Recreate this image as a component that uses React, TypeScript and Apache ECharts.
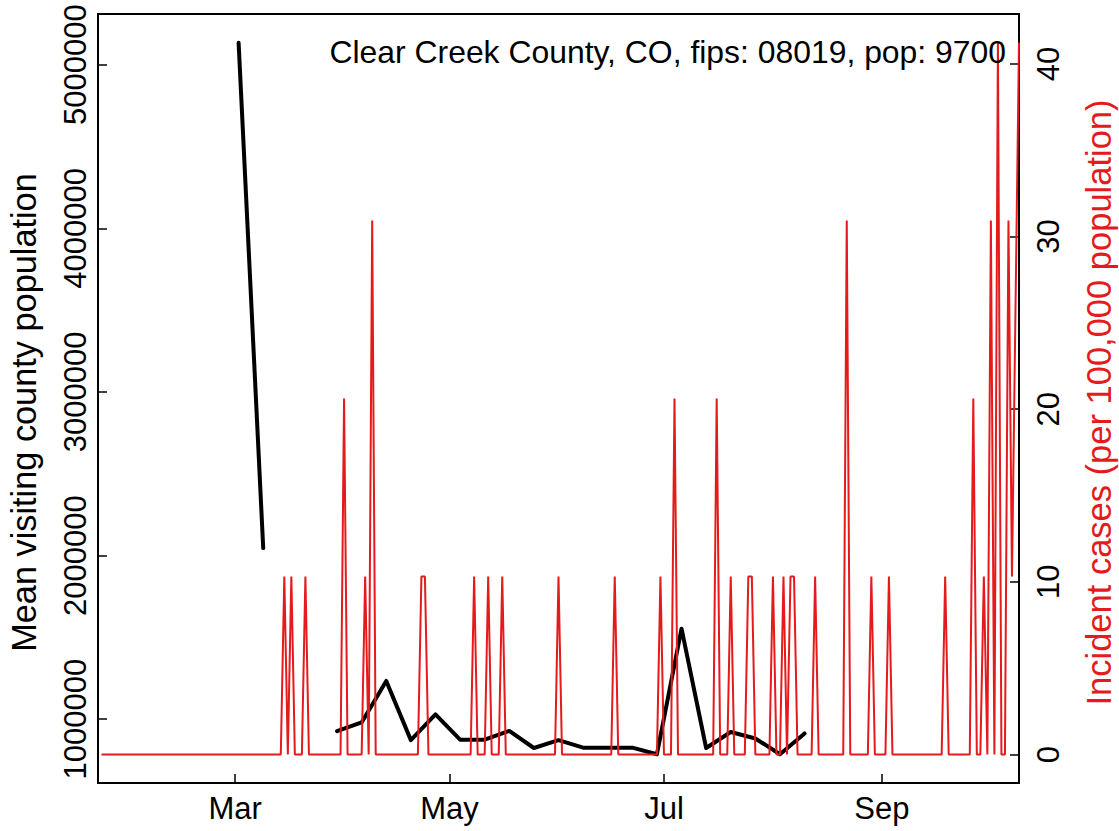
import React, { useEffect, useRef } from "react";
import * as echarts from "echarts";

const FONT = "'Liberation Sans', Arial, Helvetica, sans-serif";

const chartTitle = "Clear Creek County, CO, fips: 08019, pop: 9700";
const leftAxisTitle = "Mean visiting county population";
const rightAxisTitle = "Incident cases (per 100,000 population)";

const axisStart = "2020-01-22";
const axisEnd = "2020-10-10";
const tickDates = ["2020-03-01", "2020-05-01", "2020-07-01", "2020-09-01"];
const tickLabels = ["Mar", "May", "Jul", "Sep"];

const leftTicks = [1000000, 2000000, 3000000, 4000000, 5000000];
const rightTicks = [0, 10, 20, 30, 40];

// weekly mean visiting county population (null = missing)
const weekDates = [
  "2020-03-02", "2020-03-09", "2020-03-16", "2020-03-23", "2020-03-30",
  "2020-04-06", "2020-04-13", "2020-04-20", "2020-04-27", "2020-05-04",
  "2020-05-11", "2020-05-18", "2020-05-25", "2020-06-01", "2020-06-08",
  "2020-06-15", "2020-06-22", "2020-06-29", "2020-07-06", "2020-07-13",
  "2020-07-20", "2020-07-27", "2020-08-03", "2020-08-10",
];
const visitingPop = [
  5134000, 2046000, null, null, 927000,
  980000, 1234000, 872000, 1029000, 875000,
  875000, 928000, 824000, 872000, 826000,
  826000, 826000, 786000, 1553000, 824000,
  922000, 882000, 786000, 913000,
];

// daily incident cases per 100,000 (days not listed are 0)
const caseStart = "2020-01-23";
const caseEnd = "2020-10-10";
const caseDates = [
  "2020-03-15", "2020-03-17", "2020-03-21", "2020-04-01", "2020-04-07",
  "2020-04-09", "2020-04-23", "2020-04-24", "2020-05-08", "2020-05-12",
  "2020-05-16", "2020-06-01", "2020-06-17", "2020-06-30", "2020-07-04",
  "2020-07-16", "2020-07-20", "2020-07-25", "2020-07-26", "2020-08-01",
  "2020-08-04", "2020-08-06", "2020-08-07", "2020-08-13", "2020-08-22",
  "2020-08-29", "2020-09-03", "2020-09-19", "2020-09-27", "2020-09-30",
  "2020-10-02", "2020-10-04", "2020-10-07", "2020-10-08", "2020-10-10",
];
const caseRates = [
  10.31, 10.31, 10.31, 20.62, 10.31,
  30.93, 10.31, 10.31, 10.31, 10.31,
  10.31, 10.31, 10.31, 10.31, 20.62,
  20.62, 10.31, 10.31, 10.31, 10.31,
  10.31, 10.31, 10.31, 10.31, 30.93,
  10.31, 10.31, 10.31, 20.62, 10.31,
  30.93, 41.24, 30.93, 10.31, 41.24,
];
const noReportDates = ["2020-10-09"];

function ts(s: string): number {
  const [y, m, d] = s.split("-").map(Number);
  return Date.UTC(y, m - 1, d);
}

function buildCases(): [number, number][] {
  const [y, m, d] = caseStart.split("-").map(Number);
  const end = ts(caseEnd);
  const rateMap = new Map<number, number>();
  caseDates.forEach((c, i) => rateMap.set(ts(c), caseRates[i]));
  const skip = new Set(noReportDates.map(ts));
  const out: [number, number][] = [];
  for (let i = 0; ; i++) {
    const t = Date.UTC(y, m - 1, d + i);
    if (t > end) break;
    if (skip.has(t)) continue;
    out.push([t, rateMap.get(t) ?? 0]);
  }
  return out;
}

export default function App() {
  const ref = useRef<HTMLDivElement>(null);

  useEffect(() => {
    if (!ref.current) return;
    const chart = echarts.init(ref.current, undefined, { renderer: "svg" });
    const tickTs = tickDates.map(ts);
    const textBase = { fontFamily: FONT, color: "#000" };

    const option: any = {
      animation: false,
      backgroundColor: "#fff",
      title: {
        text: chartTitle,
        right: 108,
        top: 31,
        textStyle: { ...textBase, fontSize: 31.9, fontWeight: "normal" },
      },
      grid: {
        left: 98,
        right: 100,
        top: 14,
        bottom: 48,
        show: true,
        borderColor: "#000",
        borderWidth: 2,
        backgroundColor: "transparent",
        containLabel: false,
        outerBoundsMode: "none",
      },
      xAxis: {
        type: "value",
        min: ts(axisStart),
        max: ts(axisEnd),
        axisLine: { show: true, onZero: false, lineStyle: { color: "#000", width: 2 } },
        axisTick: {
          show: true,
          inside: true,
          length: 9,
          customValues: tickTs,
          lineStyle: { color: "#000", width: 1.5 },
        },
        axisLabel: {
          ...textBase,
          fontSize: 31,
          margin: 10,
          customValues: tickTs,
          formatter: (v: number) => {
            let best = 0;
            tickTs.forEach((t, i) => {
              if (Math.abs(t - v) < Math.abs(tickTs[best] - v)) best = i;
            });
            return tickLabels[best];
          },
        },
        splitLine: { show: false },
      },
      yAxis: [
        {
          type: "value",
          position: "left",
          min: 610000,
          max: 5310000,
          name: leftAxisTitle,
          nameLocation: "middle",
          nameRotate: 90,
          nameGap: 57,
          nameTextStyle: { ...textBase, fontSize: 34.3, padding: [0, 28, 0, 0] },
          axisLine: { show: true, onZero: false, lineStyle: { color: "#000", width: 2 } },
          axisTick: {
            show: true,
            inside: true,
            length: 9,
            customValues: leftTicks,
            lineStyle: { color: "#000", width: 1.5 },
          },
          axisLabel: {
            ...textBase,
            fontSize: 31,
            rotate: 90,
            margin: 7,
            customValues: leftTicks,
            formatter: (v: number) => String(v),
          },
          splitLine: { show: false },
        },
        {
          type: "value",
          position: "right",
          min: -1.65,
          max: 42.89,
          name: rightAxisTitle,
          nameLocation: "middle",
          nameRotate: 90,
          nameGap: 62,
          nameTextStyle: { ...textBase, fontSize: 34.5, color: "#E41A1C", padding: [0, 8, 0, 0] },
          axisLine: { show: true, onZero: false, lineStyle: { color: "#000", width: 2 } },
          axisTick: {
            show: true,
            inside: true,
            length: 9,
            customValues: rightTicks,
            lineStyle: { color: "#000", width: 1.5 },
          },
          axisLabel: {
            ...textBase,
            fontSize: 31,
            rotate: 90,
            margin: 14,
            customValues: rightTicks,
            formatter: (v: number) => String(v),
          },
          splitLine: { show: false },
        },
      ],
      series: [
        {
          type: "line",
          yAxisIndex: 0,
          data: weekDates.map((d, i) => [ts(d), visitingPop[i] === null ? "-" : visitingPop[i]]),
          symbol: "none",
          connectNulls: false,
          lineStyle: { color: "#000", width: 4, cap: "round", join: "round" },
          z: 2,
        },
        {
          type: "line",
          yAxisIndex: 1,
          data: buildCases(),
          symbol: "none",
          lineStyle: { color: "#E41A1C", width: 2 },
          z: 3,
        },
      ],
    };

    chart.setOption(option);
    return () => chart.dispose();
  }, []);

  return (
    <div
      ref={ref}
      style={{ position: "fixed", left: 0, top: 0, width: 1119, height: 831 }}
    />
  );
}
